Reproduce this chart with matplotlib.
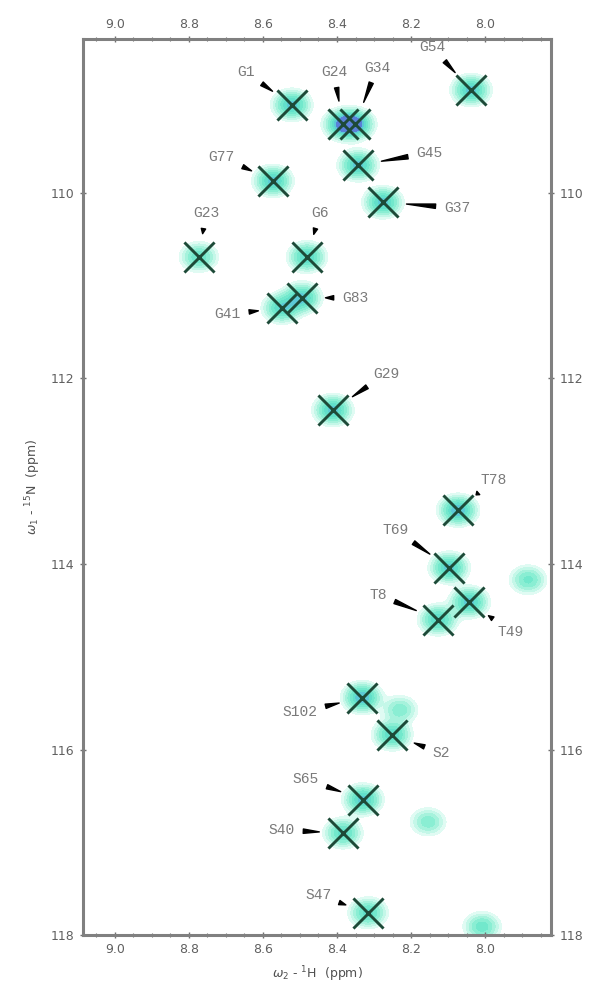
import numpy as np
import matplotlib
matplotlib.use("Agg")
import matplotlib.pyplot as plt
from matplotlib.ticker import MultipleLocator

# ---- data ----
labels = ['G54', 'G1', 'G24', 'G34', 'G45', 'G37', 'G77', 'G23', 'G6', 'G83', 'G41',
          'G29', 'T78', 'T69', 'T49', 'T8', 'S102', 'S2', 'S65', 'S40', 'S47']
h_ppm = [8.038, 8.522, 8.384, 8.351, 8.343, 8.276, 8.573, 8.773, 8.481, 8.495, 8.549,
         8.411, 8.073, 8.097, 8.043, 8.127, 8.332, 8.251, 8.330, 8.384, 8.316]
n_ppm = [108.89, 109.05, 109.26, 109.26, 109.70, 110.10, 109.87, 110.69, 110.69, 111.13, 111.24,
         112.34, 113.42, 114.04, 114.41, 114.60, 115.44, 115.84, 116.54, 116.90, 117.76]
label_h = [8.143, 8.646, 8.408, 8.292, 8.151, 8.076, 8.711, 8.754, 8.446, 8.351, 8.695,
           8.268, 7.976, 8.243, 7.930, 8.289, 8.500, 8.119, 8.484, 8.549, 8.451]
label_n = [108.43, 108.70, 108.70, 108.65, 109.57, 110.16, 109.61, 110.22, 110.22, 111.13, 111.31,
           111.95, 113.09, 113.63, 114.73, 114.33, 115.60, 116.04, 116.32, 116.87, 117.57]
peak_amp = [1.0, 1.0, 1.1, 1.1, 1.0, 1.0, 1.0, 0.7, 0.9, 1.0, 0.9,
            1.0, 1.1, 1.0, 1.0, 0.9, 1.1, 0.9, 1.0, 0.8, 0.8]

# unassigned peaks (no cross)
extra_h = [7.884, 8.230, 8.154, 8.008]
extra_n = [114.17, 115.57, 116.78, 117.91]
extra_amp = [0.6, 0.5, 0.5, 0.65]

x_ticks = [9.0, 8.8, 8.6, 8.4, 8.2, 8.0]
y_ticks = [110, 112, 114, 116, 118]

# ---- figure ----
fig = plt.figure(figsize=(5.97, 9.93), dpi=100)
ax = fig.add_axes([0.139, 0.0584, 0.784, 0.9023])

xlim = (9.086, 7.822)
ylim = (118.0, 108.34)

# contour surface
gx = np.linspace(7.82, 9.09, 500)
gy = np.linspace(108.3, 118.2, 900)
X, Y = np.meshgrid(gx, gy)
Z = np.zeros_like(X)
sx, sy = 0.027, 0.085
for hx, ny, a in zip(h_ppm + extra_h, n_ppm + extra_n, peak_amp + extra_amp):
    Z += a * np.exp(-((X - hx) ** 2 / (2 * sx ** 2) + (Y - ny) ** 2 / (2 * sy ** 2)))

levels = [0.1, 0.18, 0.28, 0.4, 0.55, 0.72, 0.9, 1.08, 5]
cols = ['#e0fbf3', '#c4f7e8', '#a6f2dc', '#8aeed3', '#72e8cc', '#62e0ca', '#5ccad6', '#5a80d8']
ax.contourf(X, Y, Z, levels=levels, colors=cols, zorder=1)

# crosses
ax.scatter(h_ppm, n_ppm, marker='x', s=470, linewidths=2.1, color='#1d4a38', zorder=3)

# labels with wedge arrows
for lab, hx, ny, lx, ly in zip(labels, h_ppm, n_ppm, label_h, label_n):
    ax.annotate(lab, xy=(hx, ny), xytext=(lx, ly), textcoords='data',
                ha='center', va='center', fontsize=10.5, color='#7a7a7a',
                family='Liberation Mono',
                arrowprops=dict(arrowstyle='wedge,tail_width=0.3,shrink_factor=0.5',
                                color='black', shrinkA=4, shrinkB=17),
                zorder=4)

ax.set_xlim(*xlim)
ax.set_ylim(*ylim)

ax.set_xticks(x_ticks)
ax.set_xticklabels([f'{v:.1f}' for v in x_ticks])
ax.set_yticks(y_ticks)
ax.set_yticklabels([str(v) for v in y_ticks])
ax.xaxis.set_minor_locator(MultipleLocator(0.05))

ax.tick_params(which='both', direction='inout', top=True, right=True,
               labeltop=True, labelright=True, color='#707070',
               labelcolor='#606060', labelsize=9)
ax.tick_params(which='major', length=5, width=1)
ax.tick_params(which='minor', length=3, width=0.8)
ax.tick_params(axis='y', which='minor', left=False, right=False)

for sp in ax.spines.values():
    sp.set_color('#808080')
    sp.set_linewidth(2.2)

ax.set_xlabel(r'$\omega_2$ - $^1$H  (ppm)', fontsize=9, color='#505050', labelpad=6)
ax.set_ylabel(r'$\omega_1$ - $^{15}$N  (ppm)', fontsize=9, color='#505050', labelpad=6)

fig.savefig('out.png', dpi=100)
